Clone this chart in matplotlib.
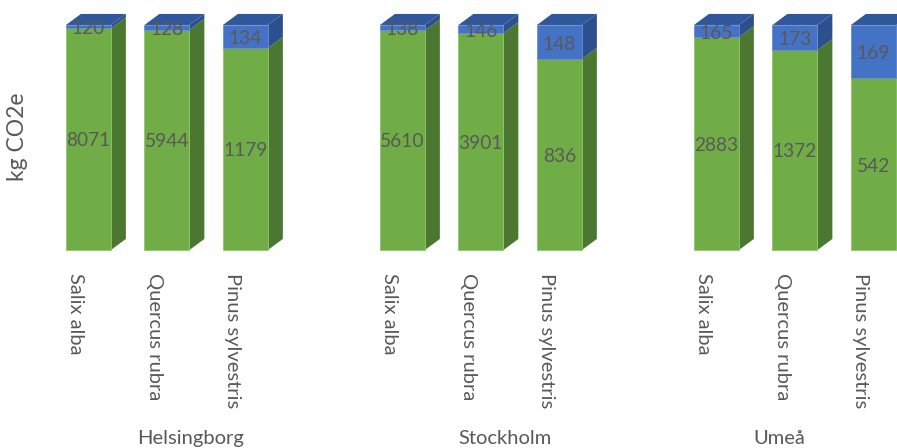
import numpy as np
import matplotlib.pyplot as plt

plt.rcParams['font.family'] = ['Lato', 'DejaVu Sans']

cities = ['Helsingborg', 'Stockholm', 'Umeå']
species = ['Salix alba', 'Quercus rubra', 'Pinus sylvestris']
green_vals = [8071, 5944, 1179, 5610, 3901, 836, 2883, 1372, 542]
blue_vals = [120, 128, 134, 138, 146, 148, 165, 173, 169]

green = np.array(green_vals, dtype=float)
blue = np.array(blue_vals, dtype=float)
total = green + blue
g_pct = green / total * 100
b_pct = blue / total * 100

# bar slots: 3 bars per city, one empty slot between cities
xpos = np.array([4 * c + s for c in range(len(cities)) for s in range(len(species))], dtype=float)

w = 0.573     # front face width
dx = 0.19     # depth offset in x
dy = 4.9      # depth offset in y
txt = '#595959'

c_green, c_green_side = '#70AD47', '#4B7730'
c_blue, c_blue_side, c_blue_top = '#4472C4', '#2C4F8E', '#30579B'

fig = plt.figure(figsize=(8.97, 4.48), dpi=100)
ax = fig.add_axes([0, 0, 1, 1])
xmin, xmax = -1.127, 10.3
ax.set_xlim(xmin, xmax)
ax.set_ylim(-88, 111.1)
ax.set_axis_off()

ax.bar(xpos, g_pct, width=w, color=c_green, edgecolor='#8CC96A', linewidth=0.6, zorder=2)
ax.bar(xpos, b_pct, bottom=g_pct, width=w, color=c_blue, edgecolor='#6A8FD3', linewidth=0.6, zorder=2)

for x, g in zip(xpos, g_pct):
    xr = x + w / 2
    xl = x - w / 2
    ax.fill([xr, xr + dx, xr + dx, xr], [0, dy, g + dy, g], color=c_green_side, lw=0, zorder=1)
    ax.fill([xr, xr + dx, xr + dx, xr], [g, g + dy, 100 + dy, 100], color=c_blue_side, lw=0, zorder=1)
    ax.fill([xl, xr, xr + dx, xl + dx], [100, 100, 100 + dy, 100 + dy], color=c_blue_top, lw=0, zorder=1)

fs = 13.8
for x, g, b, gv, bv in zip(xpos, g_pct, b_pct, green_vals, blue_vals):
    ax.text(x, g / 2 - 0.8, str(gv), ha='center', va='center', color=txt, fontsize=fs, zorder=3)
    ax.text(x, g + b / 2 - 1.0, str(bv), ha='center', va='center', color=txt, fontsize=fs, zorder=3)

fl = 14.5
for i, x in enumerate(xpos):
    ax.text(x - 0.16, -10.2, species[i % 3], rotation=270, ha='center', va='top',
            color=txt, fontsize=fl)

for c, city in enumerate(cities):
    lo = 4 * c - 0.7
    hi = min(4 * c + 3.3, xmax)
    ax.text((lo + hi) / 2, -83.6, city, ha='center', va='center', color=txt, fontsize=fl)

ax.text(-0.898, 50.2, 'kg CO2e', rotation=90, ha='center', va='center', color=txt, fontsize=16.5)

fig.savefig('out.png', dpi=100)
